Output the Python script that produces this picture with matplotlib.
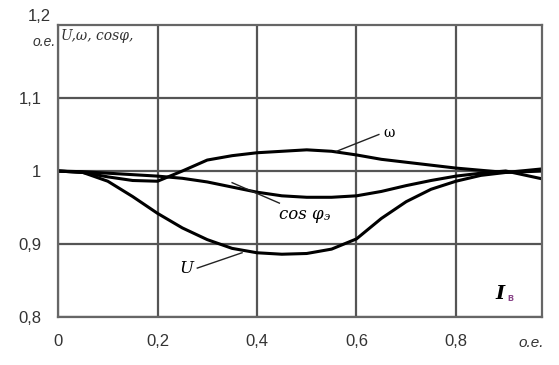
import matplotlib
matplotlib.use("Agg")
from matplotlib import pyplot as plt

# data (о.е.)
x = [0, 0.05, 0.1, 0.15, 0.2, 0.25, 0.3, 0.35, 0.4, 0.45, 0.5, 0.55, 0.6, 0.65, 0.7, 0.75, 0.8, 0.85, 0.9, 0.975]
u = [1.0, 0.998, 0.986, 0.965, 0.942, 0.922, 0.906, 0.894, 0.888, 0.886, 0.887, 0.893, 0.907, 0.935, 0.958, 0.975, 0.986, 0.994, 0.998, 1.003]
cos_phi = [1.0, 0.999, 0.997, 0.995, 0.993, 0.990, 0.985, 0.978, 0.971, 0.966, 0.964, 0.964, 0.966, 0.972, 0.980, 0.987, 0.993, 0.997, 1.0, 0.989]
omega = [1.0, 0.998, 0.992, 0.987, 0.986, 1.0, 1.015, 1.021, 1.025, 1.027, 1.029, 1.027, 1.022, 1.016, 1.012, 1.008, 1.004, 1.001, 0.998, 1.0]

x_ticks = [0, 0.2, 0.4, 0.6, 0.8]
x_labels = ["0", "0,2", "0,4", "0,6", "0,8"]
y_ticks = [0.8, 0.9, 1.0, 1.1]
y_labels = ["0,8", "0,9", "1", "1,1"]

plt.rcParams["font.family"] = ["Liberation Sans", "DejaVu Sans"]
fig = plt.figure(figsize=(5.59, 3.65), dpi=100)
ax = fig.add_axes([0.1038, 0.1315, 0.8658, 0.80])

ax.set_xlim(0, 0.973)
ax.set_ylim(0.8, 1.2)
ax.set_xticks(x_ticks)
ax.set_xticklabels(x_labels, fontsize=12, color="#333333")
ax.set_yticks(y_ticks)
ax.set_yticklabels(y_labels, fontsize=12, color="#333333")
ax.tick_params(length=0, pad=12)
ax.grid(True, color="#555555", linewidth=1.6)
for s in ax.spines.values():
    s.set_color("#666666")
    s.set_linewidth(1.6)

ax.plot(x, u, color="black", linewidth=2.2)
ax.plot(x, cos_phi, color="black", linewidth=2.2)
ax.plot(x, omega, color="black", linewidth=2.2)

# annotations
ax.plot([0.56, 0.645], [1.027, 1.05], color="#222222", linewidth=1)
ax.text(0.655, 1.052, "ω", fontsize=10, family="DejaVu Serif", va="center")
ax.plot([0.35, 0.445], [0.984, 0.956], color="#222222", linewidth=1)
ax.text(0.445, 0.94, "cos φ", fontsize=12, style="italic", family="DejaVu Serif", va="center")
ax.text(0.535, 0.937, "э", fontsize=8, style="italic", family="DejaVu Serif", va="center")
ax.plot([0.28, 0.37], [0.867, 0.888], color="#222222", linewidth=1)
ax.text(0.245, 0.866, "U", fontsize=12, style="italic", family="DejaVu Serif", va="center")
ax.text(0.88, 0.832, "I", fontsize=14, style="italic", weight="bold", family="DejaVu Serif", va="center")
ax.text(0.903, 0.826, "в", fontsize=7, weight="bold", color="#884488", va="center")
ax.text(0.005, 1.185, "U,ω, cosφ,", fontsize=10, style="italic", family="DejaVu Serif", va="center", color="#333333")

fig.text(0.058, 0.885, "о.е.", fontsize=10, style="italic", color="#333333", va="center")
fig.text(0.05, 0.955, "1,2", fontsize=12, color="#333333", va="center")
fig.text(0.928, 0.06, "о.е.", fontsize=11, style="italic", color="#333333", va="center")

plt.savefig("out.png", dpi=100)
